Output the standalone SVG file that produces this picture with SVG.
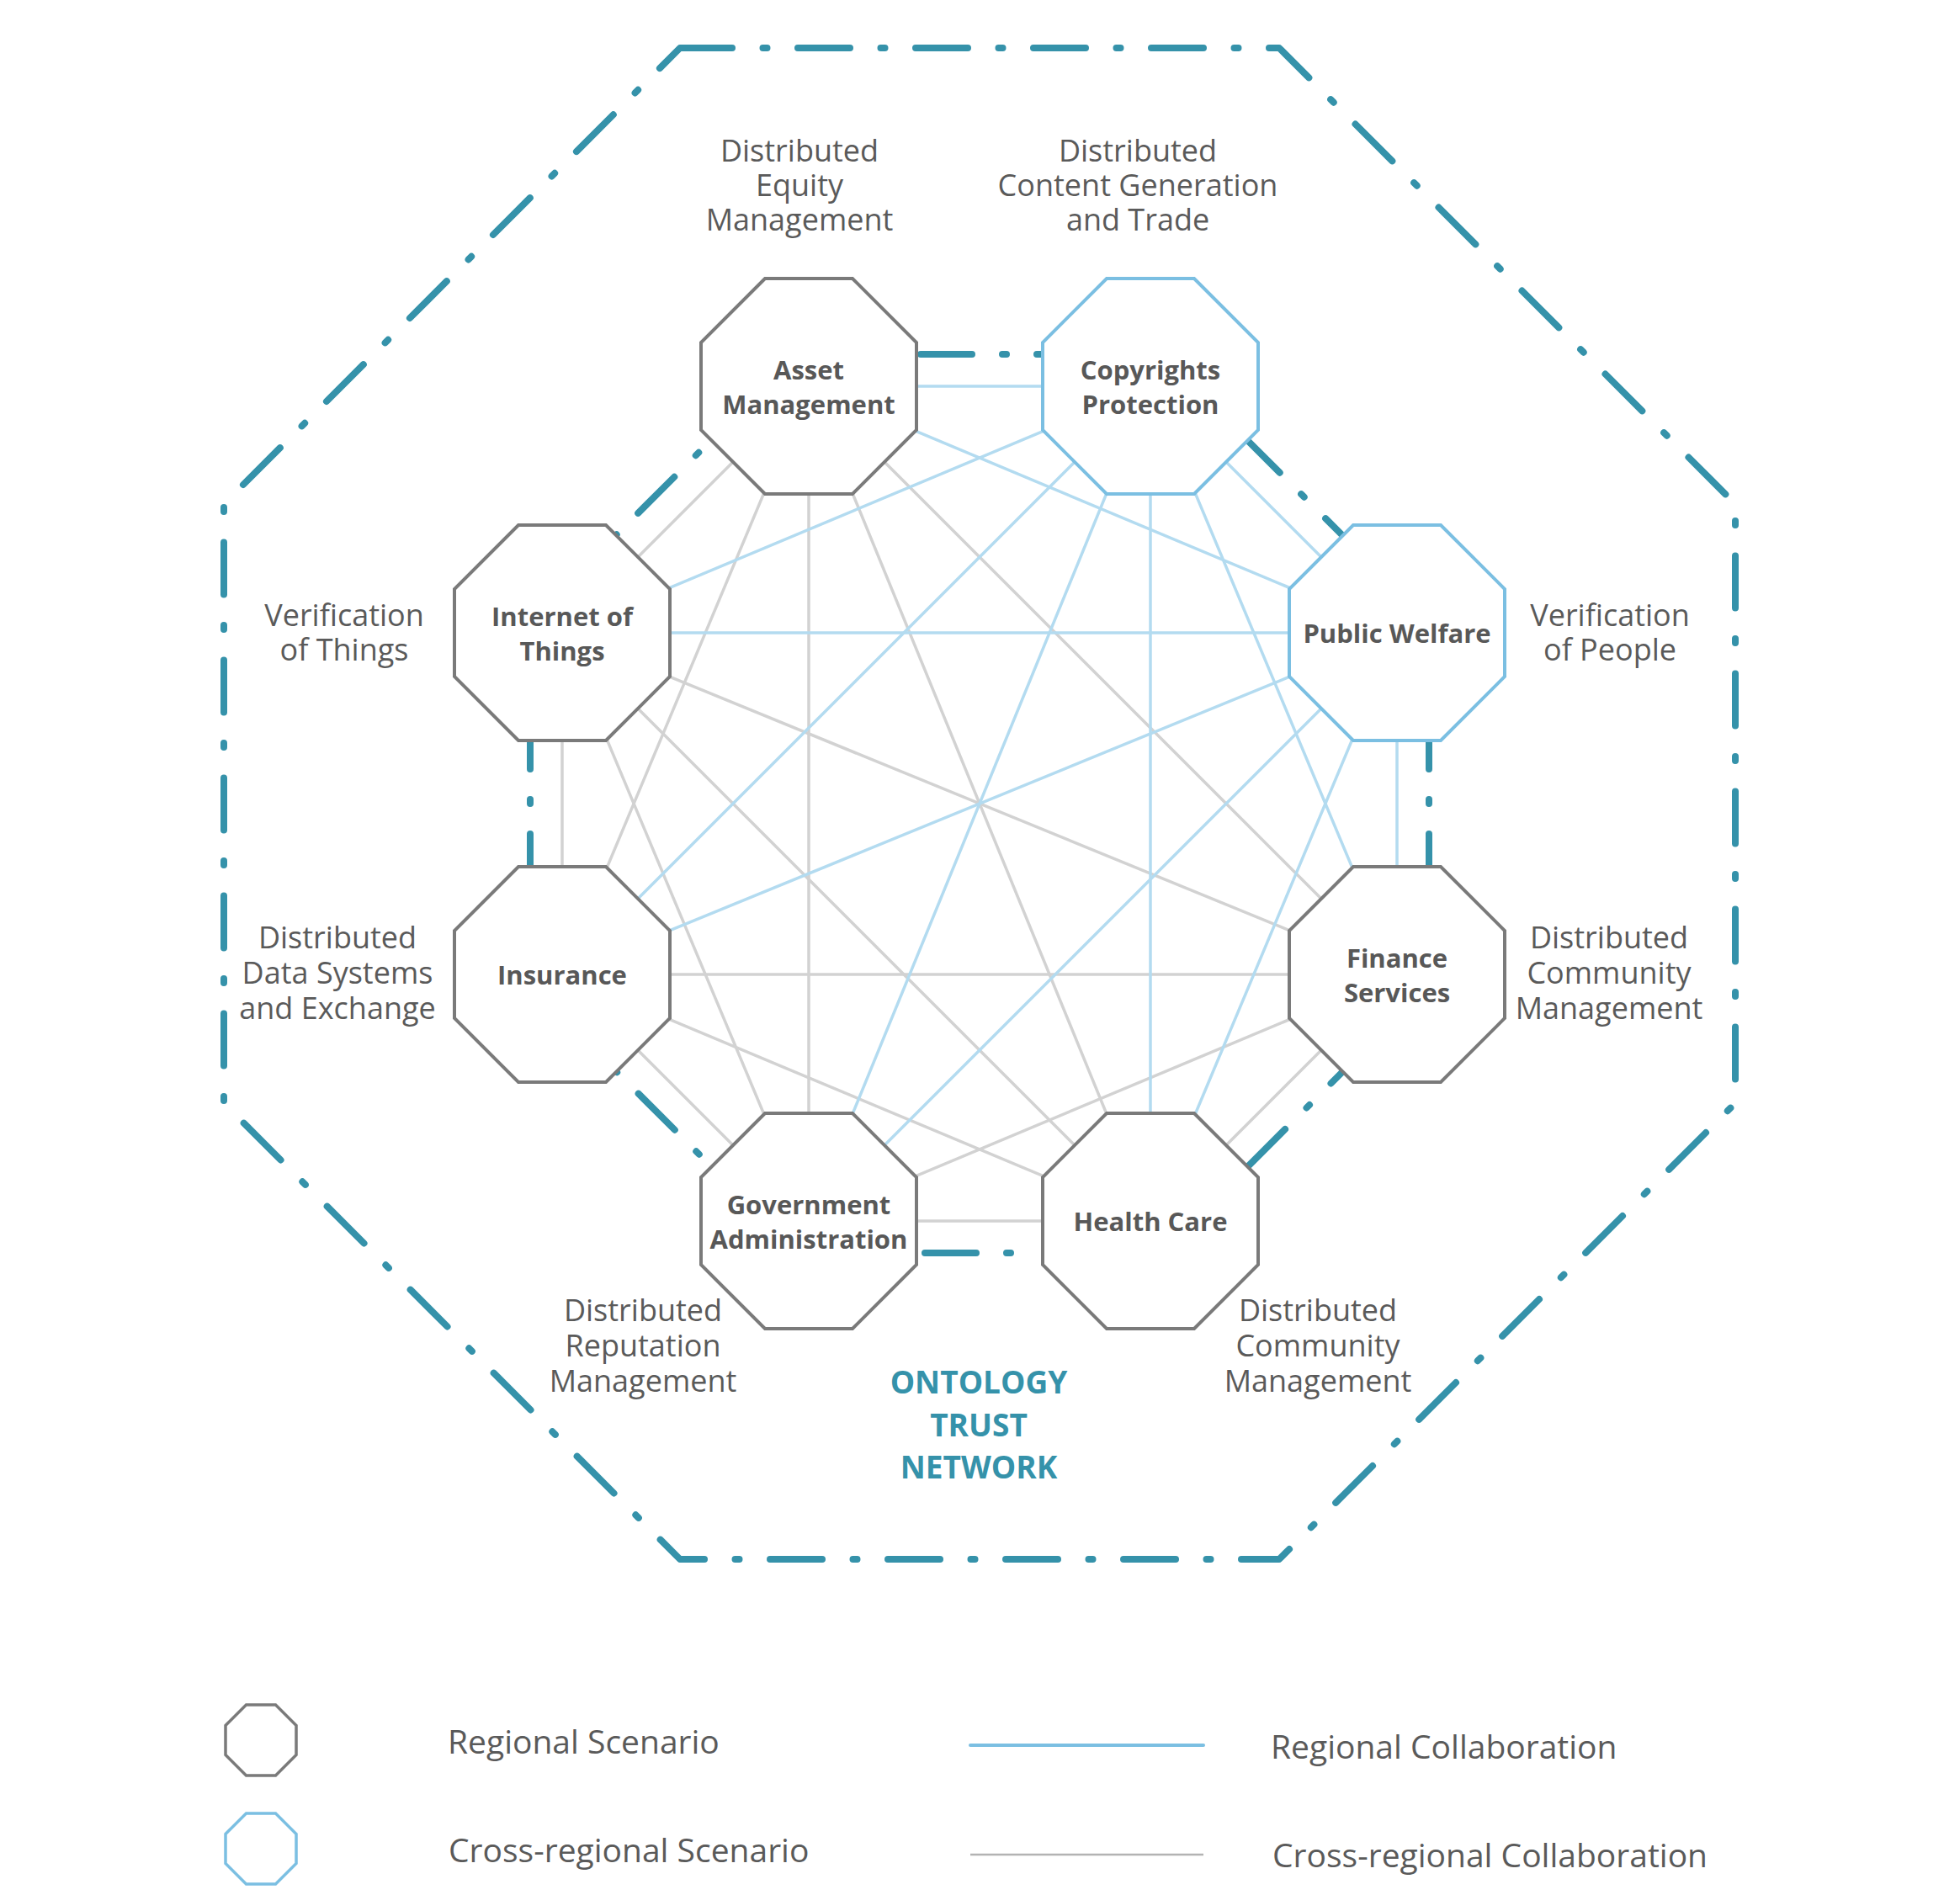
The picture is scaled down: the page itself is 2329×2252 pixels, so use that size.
<svg xmlns="http://www.w3.org/2000/svg" xmlns:xlink="http://www.w3.org/1999/xlink" width="2329" height="2252" viewBox="0 0 2329 2252">
<style>
.bg{fill:#ffffff}
.outer{fill:none;stroke:#3592aa;stroke-width:8;stroke-linecap:round;stroke-linejoin:round;stroke-dasharray:62 36.5 5 36.5}
.inner{fill:none;stroke:#3592aa;stroke-width:8;stroke-linecap:round;stroke-dasharray:61 36 5 36}
.cg{stroke:#d2d2d2;stroke-width:3.5;fill:none}
.cb{stroke:#b3dbf0;stroke-width:3.5;fill:none}
.nreg{fill:#ffffff;stroke:#7a7a7a;stroke-width:4}
.ncross{fill:#ffffff;stroke:#7bbfe2;stroke-width:4}
.nl{font-family:"Open Sans","DejaVu Sans",sans-serif;font-weight:bold;font-size:31px;fill:#585858;text-anchor:middle}
.lbl{font-family:"Open Sans","DejaVu Sans",sans-serif;font-size:36px;fill:#5a5a5a;text-anchor:middle}
.title{font-family:"Open Sans","DejaVu Sans",sans-serif;font-weight:bold;font-size:37px;fill:#3592aa;text-anchor:middle}
.leg{font-family:"Open Sans","DejaVu Sans",sans-serif;font-size:39px;fill:#5a5a5a}
</style>
<defs>
<polygon id="oct" points="-52,-128 52,-128 128,-52 128,52 52,128 -52,128 -128,52 -128,-52"/>
<polygon id="soct" points="-17.5,-42 17.5,-42 42,-17.5 42,17.5 17.5,42 -17.5,42 -42,17.5 -42,-17.5"/>
</defs>
<rect class="bg" x="0" y="0" width="2329" height="2252"/>

<g id="frame">
<path class="outer" d="M808 57 H1520 L2062 599 V1311 L1520 1853 H808 L266 1311 V599 Z"/>
</g>

<g id="ring">
<line class="inner" x1="1089" y1="421" x2="1239" y2="421" stroke-dashoffset="133"/>
<line class="inner" x1="1482.5" y1="523.5" x2="1595.5" y2="636.5" stroke-dashoffset="7"/>
<line class="inner" x1="1698" y1="880" x2="1698" y2="1030" stroke-dashoffset="27"/>
<line class="inner" x1="1482.5" y1="1386.5" x2="1595.5" y2="1273.5" stroke-dashoffset="136"/>
<line class="inner" x1="1091" y1="1489" x2="1237" y2="1489" stroke-dashoffset="130"/>
<line class="inner" x1="732.5" y1="1273.5" x2="845.5" y2="1386.5" stroke-dashoffset="101"/>
<line class="inner" x1="630" y1="880" x2="630" y2="1030" stroke-dashoffset="27"/>
<line class="inner" x1="732" y1="636" x2="845" y2="523" stroke-dashoffset="101"/>
</g>

<g id="connectors">
<line class="cg" x1="961" y1="459" x2="1660" y2="1158"/>
<line class="cg" x1="961" y1="459" x2="1367" y2="1451"/>
<line class="cg" x1="961" y1="459" x2="961" y2="1451"/>
<line class="cg" x1="961" y1="459" x2="668" y2="1158"/>
<line class="cg" x1="961" y1="459" x2="668" y2="752"/>
<line class="cg" x1="1660" y1="1158" x2="1367" y2="1451"/>
<line class="cg" x1="1660" y1="1158" x2="961" y2="1451"/>
<line class="cg" x1="1660" y1="1158" x2="668" y2="1158"/>
<line class="cg" x1="1660" y1="1158" x2="668" y2="752"/>
<line class="cg" x1="1367" y1="1451" x2="961" y2="1451"/>
<line class="cg" x1="1367" y1="1451" x2="668" y2="1158"/>
<line class="cg" x1="1367" y1="1451" x2="668" y2="752"/>
<line class="cg" x1="961" y1="1451" x2="668" y2="1158"/>
<line class="cg" x1="961" y1="1451" x2="668" y2="752"/>
<line class="cg" x1="668" y1="1158" x2="668" y2="752"/>
<line class="cb" x1="961" y1="459" x2="1367" y2="459"/>
<line class="cb" x1="961" y1="459" x2="1660" y2="752"/>
<line class="cb" x1="1367" y1="459" x2="1660" y2="752"/>
<line class="cb" x1="1367" y1="459" x2="1660" y2="1158"/>
<line class="cb" x1="1367" y1="459" x2="1367" y2="1451"/>
<line class="cb" x1="1367" y1="459" x2="961" y2="1451"/>
<line class="cb" x1="1367" y1="459" x2="668" y2="1158"/>
<line class="cb" x1="1367" y1="459" x2="668" y2="752"/>
<line class="cb" x1="1660" y1="752" x2="1660" y2="1158"/>
<line class="cb" x1="1660" y1="752" x2="1367" y2="1451"/>
<line class="cb" x1="1660" y1="752" x2="961" y2="1451"/>
<line class="cb" x1="1660" y1="752" x2="668" y2="1158"/>
<line class="cb" x1="1660" y1="752" x2="668" y2="752"/>
</g>

<g id="node-asset">
<use href="#oct" x="961" y="459" class="nreg"/>
<text class="nl" x="961" y="451">Asset<tspan x="961" dy="41">Management</tspan></text>
</g>
<g id="node-copyrights">
<use href="#oct" x="1367" y="459" class="ncross"/>
<text class="nl" x="1367" y="451">Copyrights<tspan x="1367" dy="41">Protection</tspan></text>
</g>
<g id="node-welfare">
<use href="#oct" x="1660" y="752" class="ncross"/>
<text class="nl" x="1660" y="764">Public Welfare</text>
</g>
<g id="node-finance">
<use href="#oct" x="1660" y="1158" class="nreg"/>
<text class="nl" x="1660" y="1150">Finance<tspan x="1660" dy="41">Services</tspan></text>
</g>
<g id="node-health">
<use href="#oct" x="1367" y="1451" class="nreg"/>
<text class="nl" x="1367" y="1463">Health Care</text>
</g>
<g id="node-government">
<use href="#oct" x="961" y="1451" class="nreg"/>
<text class="nl" x="961" y="1443">Government<tspan x="961" dy="41">Administration</tspan></text>
</g>
<g id="node-insurance">
<use href="#oct" x="668" y="1158" class="nreg"/>
<text class="nl" x="668" y="1170">Insurance</text>
</g>
<g id="node-iot">
<use href="#oct" x="668" y="752" class="nreg"/>
<text class="nl" x="668" y="744">Internet of<tspan x="668" dy="41">Things</tspan></text>
</g>

<g id="labels">
<text class="lbl" x="950" y="192">Distributed<tspan x="950" dy="41">Equity</tspan><tspan x="950" dy="41">Management</tspan></text>
<text class="lbl" x="1352" y="192">Distributed<tspan x="1352" dy="41">Content Generation</tspan><tspan x="1352" dy="41">and Trade</tspan></text>
<text class="lbl" x="409" y="744">Verification<tspan x="409" dy="41">of Things</tspan></text>
<text class="lbl" x="1913" y="744">Verification<tspan x="1913" dy="41">of People</tspan></text>
<text class="lbl" x="401" y="1127">Distributed<tspan x="401" dy="42">Data Systems</tspan><tspan x="401" dy="42">and Exchange</tspan></text>
<text class="lbl" x="1912" y="1127">Distributed<tspan x="1912" dy="42">Community</tspan><tspan x="1912" dy="42">Management</tspan></text>
<text class="lbl" x="764" y="1570">Distributed<tspan x="764" dy="42">Reputation</tspan><tspan x="764" dy="42">Management</tspan></text>
<text class="lbl" x="1566" y="1570">Distributed<tspan x="1566" dy="42">Community</tspan><tspan x="1566" dy="42">Management</tspan></text>
<text class="title" x="1163" y="1656">ONTOLOGY<tspan x="1163" dy="51">TRUST</tspan><tspan x="1163" dy="50">NETWORK</tspan></text>
</g>

<g id="legend">
<use href="#soct" x="310" y="2068" class="nreg" style="stroke-width:3.5"/>
<use href="#soct" x="310" y="2197" class="ncross" style="stroke-width:3.5"/>
<text class="leg" x="532" y="2084">Regional Scenario</text>
<text class="leg" x="533" y="2213">Cross-regional Scenario</text>
<line x1="1153" y1="2074" x2="1430" y2="2074" stroke="#7bbfe2" stroke-width="4" stroke-linecap="round"/>
<line x1="1153" y1="2204" x2="1430" y2="2204" stroke="#b3b3b3" stroke-width="2.5"/>
<text class="leg" x="1510" y="2090">Regional Collaboration</text>
<text class="leg" x="1512" y="2219">Cross-regional Collaboration</text>
</g>
</svg>
